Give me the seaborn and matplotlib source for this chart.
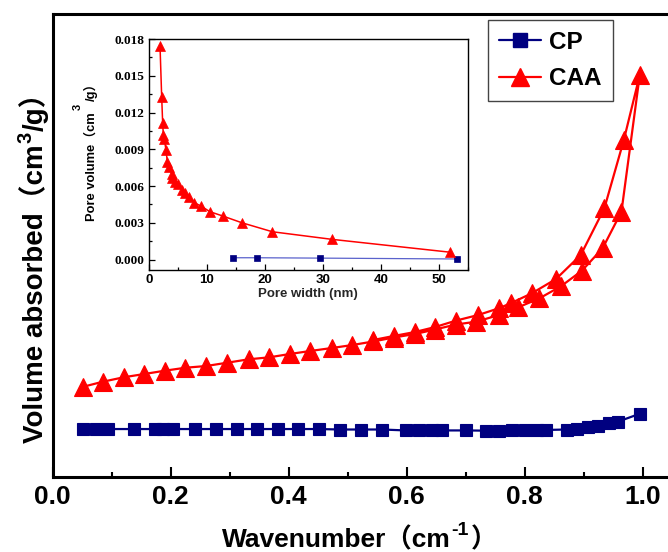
import matplotlib
matplotlib.use("Agg")
import matplotlib.pyplot as plt
import seaborn as sns
import pandas as pd
from matplotlib import font_manager
from matplotlib.lines import Line2D
from matplotlib.ticker import MultipleLocator, FormatStrFormatter

# ---------------- data ----------------
# main isotherm (relative units on y, 0..100 = bottom..top of axes)
cp_x = [0.052, 0.074, 0.094, 0.137, 0.173, 0.187, 0.204, 0.241, 0.276, 0.312,
        0.347, 0.382, 0.416, 0.451, 0.487, 0.522, 0.558, 0.598, 0.621, 0.643,
        0.660, 0.700, 0.735, 0.757, 0.778, 0.800, 0.821, 0.836, 0.871, 0.889,
        0.907, 0.925, 0.943, 0.958, 0.995]
cp_y = [10.3, 10.3, 10.3, 10.3, 10.3, 10.3, 10.3, 10.3, 10.3, 10.3,
        10.3, 10.3, 10.3, 10.3, 10.2, 10.2, 10.2, 10.0, 10.0, 10.0,
        10.0, 10.0, 9.95, 9.95, 10.0, 10.0, 10.0, 10.1, 10.2, 10.4,
        10.8, 10.9, 11.6, 11.9, 13.6]

caa_ads_x = [0.052, 0.085, 0.120, 0.155, 0.190, 0.225, 0.260, 0.296, 0.332, 0.367,
             0.402, 0.436, 0.473, 0.508, 0.543, 0.578, 0.614, 0.648, 0.683, 0.718,
             0.756, 0.789, 0.825, 0.862, 0.897, 0.932, 0.964, 0.995]
caa_ads_y = [19.45, 20.53, 21.48, 22.19, 22.91, 23.55, 23.92, 24.64, 25.37, 25.80,
             26.52, 27.16, 27.81, 28.46, 29.22, 30.08, 30.84, 31.81, 32.89, 33.50,
             34.94, 36.61, 38.55, 41.21, 44.52, 49.36, 57.27, 86.81]
caa_des_x = [0.968, 0.935, 0.895, 0.853, 0.812, 0.776, 0.756, 0.721, 0.684, 0.648,
             0.614, 0.578, 0.543]
caa_des_y = [72.76, 58.00, 47.91, 42.72, 39.63, 37.47, 36.39, 34.94, 33.75, 32.34,
             31.27, 30.41, 29.54]

# inset: pore size distribution
in_caa_x = [1.9, 2.19, 2.36, 2.47, 2.64, 2.93, 3.16, 3.5, 3.9, 4.0, 4.48, 5.05,
            5.64, 6.2, 6.95, 7.81, 8.97, 10.5, 12.7, 16.0, 21.3, 31.6, 52.0]
in_caa_y = [0.01745, 0.01326, 0.01113, 0.01018, 0.00982, 0.00895, 0.00800,
            0.00759, 0.00699, 0.00664, 0.00636, 0.00615, 0.00568, 0.00541,
            0.00508, 0.00464, 0.00437, 0.00391, 0.00356, 0.00301, 0.00227,
            0.00165, 0.00060]
in_cp_x = [14.5, 18.6, 29.5, 53.1]
in_cp_y = [0.00015, 0.00015, 0.00012, 0.00005]

series_names = ["CP", "CAA"]
x_ticks = [0.0, 0.2, 0.4, 0.6, 0.8, 1.0]
in_y_ticks = [0.000, 0.003, 0.006, 0.009, 0.012, 0.015, 0.018]
in_x_ticks = [0, 10, 20, 30, 40, 50]

NAVY = "#000080"
RED = "#ff0000"
INSET_BLUE = "#5a62cc"

# ---------------- style ----------------
sns.set_theme(style="white")
names = {f.name for f in font_manager.fontManager.ttflist}
NARROW = "Liberation Sans Narrow" if "Liberation Sans Narrow" in names else "Liberation Sans"
SANS = ["Liberation Sans", "Noto Sans CJK SC", "DejaVu Sans"]
plt.rcParams["font.family"] = SANS
plt.rcParams["font.weight"] = "bold"

W, H = 668, 552
fig = plt.figure(figsize=(W / 100, H / 100), dpi=100)
fig.patch.set_facecolor("white")

# ---------------- main axes ----------------
ax = fig.add_axes([52.7 / W, 1 - 476.7 / H, 590 * 1.1 / W, 462.7 / H])

main_df = pd.concat([
    pd.DataFrame({"x": cp_x, "y": cp_y, "series": "CP"}),
    pd.DataFrame({"x": caa_ads_x + caa_des_x, "y": caa_ads_y + caa_des_y, "series": "CAA"}),
], ignore_index=True)

sns.lineplot(data=main_df, x="x", y="y", hue="series", style="series",
             hue_order=series_names, style_order=series_names,
             palette={"CP": NAVY, "CAA": RED}, markers={"CP": "s", "CAA": "^"},
             dashes=False, sort=False, estimator=None, linewidth=1.6,
             markersize=9, legend=False, ax=ax)
for ln in ax.lines:
    ln.set_markeredgecolor(ln.get_color())
    ln.set_markeredgewidth(0.8)
    if ln.get_marker() == "^":
        ln.set_markersize(13)

ax.set_xlim(0, 1.1)
ax.set_ylim(0, 100)
ax.set_yticks([])
ax.set_xticks(x_ticks)
ax.xaxis.set_minor_locator(MultipleLocator(0.1))
ax.xaxis.set_major_formatter(FormatStrFormatter("%.1f"))
ax.tick_params(axis="x", which="major", direction="in", length=7, width=1.5,
               pad=6, labelsize=19, bottom=True, colors="black",
               labelfontfamily=NARROW)
ax.tick_params(axis="x", which="minor", direction="in", length=3.5, width=1.5,
               bottom=True, colors="black")
ax.set_xlabel("")
ax.set_ylabel("")
for sp in ax.spines.values():
    sp.set_linewidth(2.2)
    sp.set_color("black")

handles = [
    Line2D([], [], color=NAVY, marker="s", markersize=10, lw=1.6, mec=NAVY),
    Line2D([], [], color=RED, marker="^", markersize=13, lw=1.6, mec=RED),
]
leg = ax.legend(handles, series_names, loc="upper left",
                bbox_to_anchor=(0.6712, 0.987), borderaxespad=0,
                prop=dict(family="Liberation Sans", weight="bold", size=17.5),
                frameon=True, fancybox=False, edgecolor="#444444", framealpha=1,
                borderpad=0.45, handlelength=1.7, handletextpad=0.35,
                labelspacing=0.55)
leg.get_frame().set_linewidth(1.0)
for txt in leg.get_texts():
    txt.set_color("black")

# ---------------- inset ----------------
axin = fig.add_axes([149 / W, 1 - 270 / H, 318.7 / W, 231 / H])
axin.set_facecolor("white")
inset_df = pd.concat([
    pd.DataFrame({"x": in_cp_x, "y": in_cp_y, "series": "CP"}),
    pd.DataFrame({"x": in_caa_x, "y": in_caa_y, "series": "CAA"}),
], ignore_index=True)
sns.lineplot(data=inset_df, x="x", y="y", hue="series", style="series",
             hue_order=series_names, style_order=series_names,
             palette={"CP": NAVY, "CAA": RED}, markers={"CP": "s", "CAA": "^"},
             dashes=False, sort=False, estimator=None, linewidth=1.1,
             markersize=5, legend=False, ax=axin)
for ln in axin.lines:
    c = ln.get_color()
    ln.set_markeredgecolor(c)
    ln.set_markerfacecolor(c)
    ln.set_markeredgewidth(0.5)
    if ln.get_marker() == "^":
        ln.set_markersize(7)
    else:
        ln.set_color(INSET_BLUE)
        ln.set_linewidth(0.9)

axin.set_xlim(0, 55)
axin.set_ylim(-0.00085, 0.018)
axin.set_xticks(in_x_ticks)
axin.set_yticks(in_y_ticks)
axin.xaxis.set_minor_locator(MultipleLocator(5))
axin.yaxis.set_minor_locator(MultipleLocator(0.0015))
axin.yaxis.set_major_formatter(FormatStrFormatter("%.3f"))
axin.tick_params(axis="both", which="major", direction="in", length=4, width=0.9,
                 colors="black", left=True, bottom=True)
axin.tick_params(axis="both", which="minor", direction="in", length=2.2, width=0.9,
                 colors="black", left=True, bottom=True)
axin.tick_params(axis="x", labelsize=9.5, pad=3)
axin.tick_params(axis="y", labelsize=9.5, pad=3, labelfontfamily="Liberation Serif")
axin.set_xlabel("Pore width (nm)", fontsize=9.5, fontweight="bold", labelpad=1)
axin.set_ylabel("")
for sp in axin.spines.values():
    sp.set_linewidth(1.0)
    sp.set_color("black")

# ---------------- composed labels (with superscripts) ----------------
renderer = fig.canvas.get_renderer()


def compose(pieces, x0, y0, rotation):
    cur = 0.0
    for s, size, rise, gap in pieces:
        cur += gap
        if rotation == 0:
            px, py = x0 + cur, y0 + rise
        else:
            px, py = x0 - rise, y0 + cur
        t = fig.text(px / W, py / H, s, fontsize=size, fontweight="bold",
                     rotation=rotation, rotation_mode="anchor", ha="left",
                     va="baseline", family=SANS, color="black")
        bb = t.get_window_extent(renderer)
        cur += bb.width if rotation == 0 else bb.height


compose([("Volume absorbed（cm", 20, 0, 0), ("3", 14.5, 12, 1), ("/g）", 20, 0, 1)],
        43, H - 443, 90)
compose([("Wavenumber（cm", 19, 0, 0), ("-1", 14, 12, 1), ("）", 19, 0, 2)],
        221.6, 5, 0)
compose([("Pore volume（cm", 9.3, 0, 0), ("3", 8, 14, 2), ("/g）", 9.3, 0, 3)],
        95, H - 221, 90)

fig.savefig("out.png", dpi=100, facecolor="white")
